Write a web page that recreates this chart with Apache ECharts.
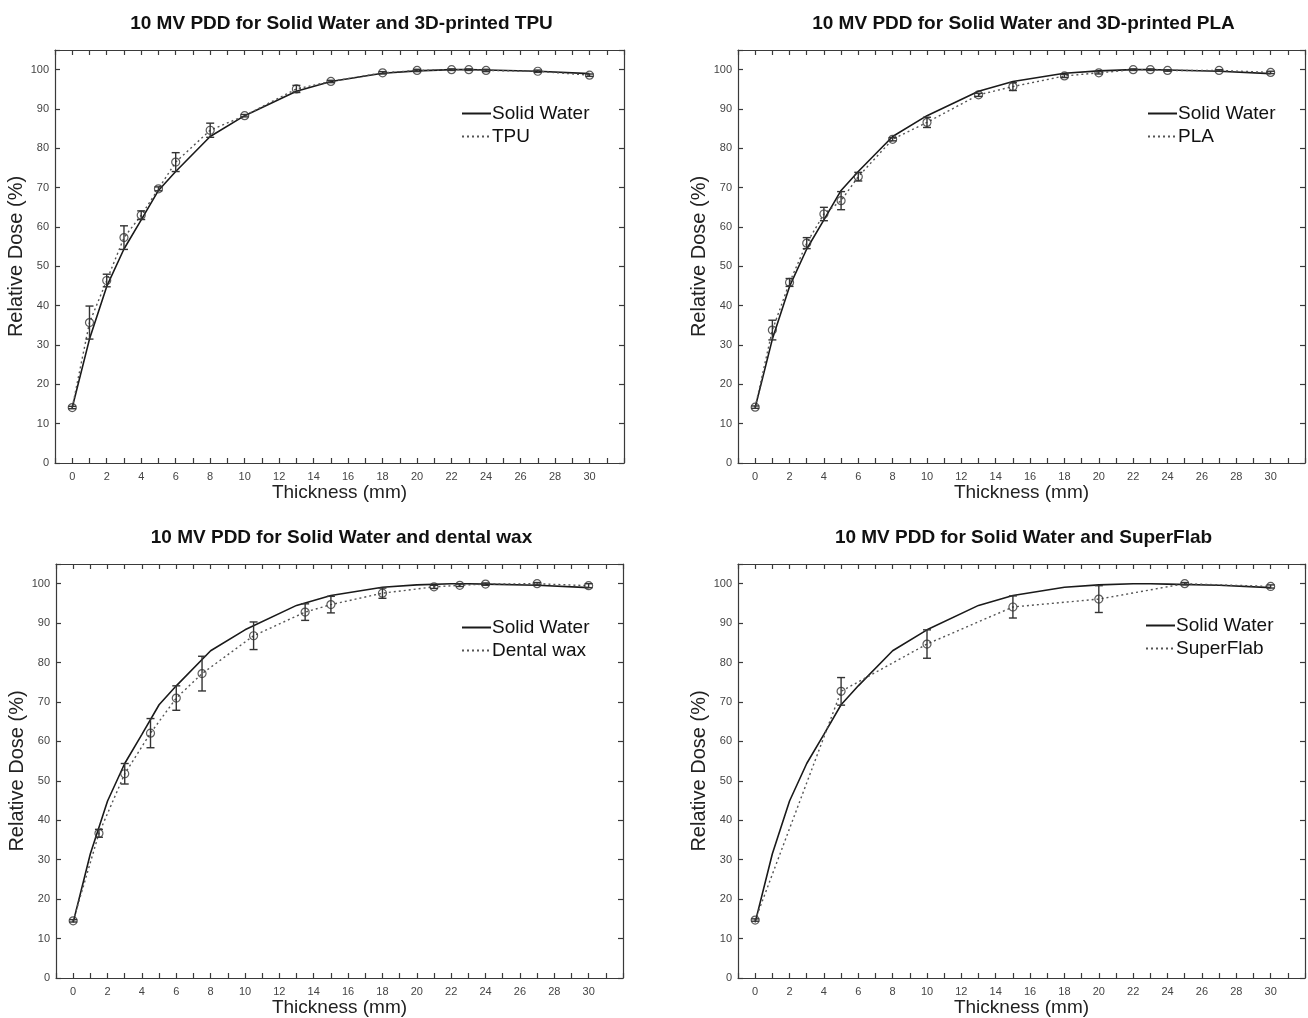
<!DOCTYPE html>
<html>
<head>
<meta charset="utf-8">
<script src="https://cdn.jsdelivr.net/npm/echarts@6/dist/echarts.min.js"></script>
<style>
html,body{margin:0;padding:0;background:#fff;}
#chart{width:1308px;height:1018px;}
</style>
</head>
<body>
<div id="chart"></div>
<script>
// ---- data ----
const titles = [
  '10 MV PDD for Solid Water and 3D-printed TPU',
  '10 MV PDD for Solid Water and 3D-printed PLA',
  '10 MV PDD for Solid Water and dental wax',
  '10 MV PDD for Solid Water and SuperFlab'
];
const materialNames = ['TPU', 'PLA', 'Dental wax', 'SuperFlab'];

const thickSW = [0, 1, 2, 3, 4, 5, 6, 8, 10, 13, 15, 18, 20, 22, 23, 24, 27, 30];
const doseSW  = [14.1, 31.5, 44.9, 54.4, 61.8, 69.3, 74.1, 83.0, 88.3, 94.5, 97.0, 99.1, 99.7, 100, 100, 99.9, 99.6, 99.0];

const thickTPU = [0, 1, 2, 3, 4, 5, 6, 8, 10, 13, 15, 18, 20, 22, 23, 24, 27, 30];
const doseTPU  = [14.1, 35.7, 46.4, 57.3, 63.0, 69.7, 76.5, 84.6, 88.3, 95.1, 97.0, 99.2, 99.8, 100, 100, 99.8, 99.6, 98.6];
const errTPU   = [0.3, 4.2, 1.6, 3.0, 1.1, 0.5, 2.4, 1.8, 0.3, 0.9, 0.3, 0.3, 0.3, 0.2, 0.2, 0.3, 0.3, 0.3];

const thickPLA = [0, 1, 2, 3, 4, 5, 6, 8, 10, 13, 15, 18, 20, 22, 23, 24, 27, 30];
const dosePLA  = [14.2, 33.8, 45.9, 55.9, 63.3, 66.7, 72.8, 82.3, 86.6, 93.6, 95.7, 98.4, 99.2, 100, 100, 99.8, 99.8, 99.3];
const errPLA   = [0.3, 2.5, 1.0, 1.4, 1.7, 2.3, 1.1, 0.4, 1.3, 0.4, 1.0, 0.4, 0.3, 0.2, 0.2, 0.2, 0.2, 0.3];

const thickWax = [0, 1.5, 3, 4.5, 6, 7.5, 10.5, 13.5, 15, 18, 21, 22.5, 24, 27, 30];
const doseWax  = [14.5, 36.7, 51.8, 62.1, 71.0, 77.2, 86.8, 92.8, 94.7, 97.6, 99.2, 99.6, 99.9, 100, 99.5];
const errWax   = [0.3, 1.0, 2.6, 3.7, 3.1, 4.4, 3.5, 2.1, 2.1, 1.3, 0.4, 0.3, 0.3, 0.3, 0.5];

const thickSF = [0, 5, 10, 15, 20, 25, 30];
const doseSF  = [14.7, 72.7, 84.7, 94.1, 96.1, 100, 99.3];
const errSF   = [0.3, 3.5, 3.6, 2.8, 3.4, 0.3, 0.4];

const xLabelValues = [0, 2, 4, 6, 8, 10, 12, 14, 16, 18, 20, 22, 24, 26, 28, 30];
const yLabelValues = [0, 10, 20, 30, 40, 50, 60, 70, 80, 90, 100];

// ---- layout ----
const grids = [
  {left: 55, top: 50, width: 569, height: 413},
  {left: 738, top: 50, width: 567, height: 413},
  {left: 56, top: 564, width: 567, height: 414},
  {left: 738, top: 564, width: 567, height: 414}
];
const legendPos = [
  {left: 461, top: 104},
  {left: 1147, top: 104},
  {left: 461, top: 618},
  {left: 1145, top: 616}
];
const materials = [
  {x: thickTPU, y: doseTPU, e: errTPU},
  {x: thickPLA, y: dosePLA, e: errPLA},
  {x: thickWax, y: doseWax, e: errWax},
  {x: thickSF, y: doseSF, e: errSF}
];

const FONT = '"Liberation Sans", Arial, Helvetica, sans-serif';
const AX = '#3a3a3a';

const option = {
  backgroundColor: '#fff',
  animation: false,
  title: [], grid: [], xAxis: [], yAxis: [], legend: [], series: []
};

grids.forEach((g, i) => {
  option.grid.push(Object.assign({containLabel: false}, g));
  option.title.push({
    text: titles[i],
    left: g.left + g.width / 2 - 3,
    top: g.top - 41,
    textAlign: 'center',
    textStyle: {fontFamily: FONT, fontWeight: 'bold', fontSize: 19, color: '#111'}
  });
  const baseX = {
    type: 'value', gridIndex: i, min: -1, max: 32, interval: 1,
    splitLine: {show: false},
    axisLine: {show: true, onZero: false, lineStyle: {color: AX, width: 1.2}},
    axisTick: {show: true, inside: true, length: 5, lineStyle: {color: AX, width: 1.2}}
  };
  option.xAxis.push(Object.assign({}, baseX, {
    position: 'bottom',
    name: 'Thickness (mm)', nameLocation: 'middle', nameGap: 19,
    nameTextStyle: {fontFamily: FONT, fontSize: 19, color: '#222'},
    axisLabel: {
      show: true, margin: 8, fontFamily: FONT, fontSize: 11, color: '#444',
      formatter: v => (xLabelValues.indexOf(v) >= 0 ? String(v) : '')
    }
  }));
  option.xAxis.push(Object.assign({}, baseX, {position: 'top', axisLabel: {show: false}}));
  const baseY = {
    type: 'value', gridIndex: i, min: 0, max: 105, interval: 10,
    splitLine: {show: false},
    axisLine: {show: true, onZero: false, lineStyle: {color: AX, width: 1.2}},
    axisTick: {show: true, inside: true, length: 5, lineStyle: {color: AX, width: 1.2}}
  };
  option.yAxis.push(Object.assign({}, baseY, {
    position: 'left',
    name: 'Relative Dose (%)', nameLocation: 'middle', nameGap: 26,
    nameTextStyle: {fontFamily: FONT, fontSize: 20, color: '#222'},
    axisLabel: {
      show: true, margin: 6, fontFamily: FONT, fontSize: 11, color: '#444',
      formatter: v => (yLabelValues.indexOf(v) >= 0 ? String(v) : '')
    }
  }));
  option.yAxis.push(Object.assign({}, baseY, {position: 'right', axisLabel: {show: false}}));

  const xi = i * 2, yi = i * 2;
  const m = materials[i];

  option.series.push({
    name: 'Solid Water', type: 'line', xAxisIndex: xi, yAxisIndex: yi,
    data: thickSW.map((x, k) => [x, doseSW[k]]),
    symbol: 'none', color: '#1a1a1a',
    lineStyle: {color: '#1a1a1a', width: 1.6, type: 'solid'},
    z: 3
  });
  option.series.push({
    name: materialNames[i], type: 'line', xAxisIndex: xi, yAxisIndex: yi,
    data: m.x.map((x, k) => [x, m.y[k]]),
    symbol: 'none', color: '#555',
    lineStyle: {color: '#555', width: 1.4, type: [2, 3]},
    z: 3
  });
  option.series.push({
    type: 'custom', xAxisIndex: xi, yAxisIndex: yi,
    data: m.x.map((x, k) => [x, m.y[k] - m.e[k], m.y[k] + m.e[k]]),
    renderItem: function (params, api) {
      const lo = api.coord([api.value(0), api.value(1)]);
      const hi = api.coord([api.value(0), api.value(2)]);
      const hw = 4;
      const st = {stroke: '#333', lineWidth: 1.4};
      return {
        type: 'group',
        children: [
          {type: 'line', shape: {x1: lo[0], y1: lo[1], x2: hi[0], y2: hi[1]}, style: st},
          {type: 'line', shape: {x1: lo[0] - hw, y1: lo[1], x2: lo[0] + hw, y2: lo[1]}, style: st},
          {type: 'line', shape: {x1: hi[0] - hw, y1: hi[1], x2: hi[0] + hw, y2: hi[1]}, style: st}
        ]
      };
    },
    z: 4, silent: true
  });
  option.series.push({
    type: 'scatter', xAxisIndex: xi, yAxisIndex: yi,
    data: m.x.map((x, k) => [x, m.y[k]]),
    symbol: 'circle', symbolSize: 8,
    itemStyle: {color: 'rgba(255,255,255,0)', borderColor: '#333', borderWidth: 1.2},
    z: 5, silent: true
  });

  option.legend.push({
    orient: 'vertical',
    left: legendPos[i].left, top: legendPos[i].top,
    data: ['Solid Water', materialNames[i]],
    itemWidth: 29, itemHeight: 10, itemGap: 4,
    padding: 0,
    selectedMode: false,
    itemStyle: {opacity: 0},
    textStyle: {fontFamily: FONT, fontSize: 19, color: '#111', padding: [0, 0, 0, -4]}
  });
});

const chart = echarts.init(document.getElementById('chart'), null, {renderer: 'canvas'});
chart.setOption(option);
</script>
</body>
</html>
